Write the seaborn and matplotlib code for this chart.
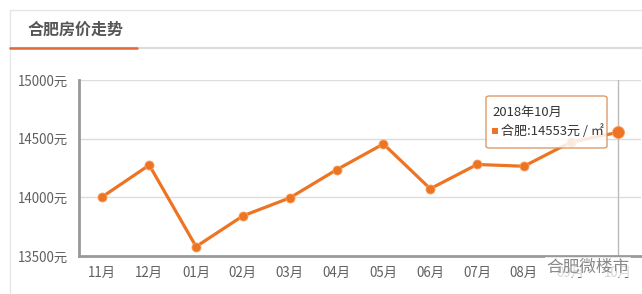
import matplotlib
matplotlib.use("Agg")
import matplotlib.pyplot as plt
import seaborn as sns
import pandas as pd
from matplotlib.lines import Line2D
from matplotlib.patches import FancyBboxPatch, Rectangle

months = ["11月", "12月", "01月", "02月", "03月", "04月", "05月", "06月", "07月", "08月", "09月", "10月"]
prices = [14005, 14275, 13580, 13842, 13995, 14235, 14455, 14073, 14280, 14265, 14470, 14553]
y_ticks = [13500, 14000, 14500, 15000]
y_labels = ["13500元", "14000元", "14500元", "15000元"]
title = "合肥房价走势"
tip_title = "2018年10月"
tip_series = "合肥"
tip_unit = "元 / ㎡"
watermark = "合肥微楼市"

sns.set_style("white")
plt.rcParams["font.family"] = ["Noto Sans CJK SC", "DejaVu Sans"]

W, H = 642, 294
fig = plt.figure(figsize=(W / 100, H / 100), dpi=100)
fig.patch.set_facecolor("white")

def fx(x):
    return x / W

def fy(y):
    return 1 - y / H

ax = fig.add_axes([fx(79), fy(256), fx(641) - fx(79), fy(80) - fy(256)])

df = pd.DataFrame({"month": months, "price": prices})
orange = "#ED7422"
sns.lineplot(data=df, x="month", y="price", ax=ax, color=orange, linewidth=2.3,
             marker="o", markersize=6.5, markeredgecolor="#f7a060", markeredgewidth=0.6,
             zorder=3)
ax.scatter([months[-1]], [prices[-1]], s=75, color=orange, edgecolor="#f7a060",
           linewidth=0.6, zorder=4)

ax.set_xlim(-0.5, len(months) - 0.5)
ax.set_ylim(y_ticks[0], y_ticks[-1])
ax.set_yticks(y_ticks)
ax.set_yticklabels(y_labels)
ax.set_xlabel("")
ax.set_ylabel("")
for v in y_ticks[1:]:
    ax.axhline(v, color="#dddddd", linewidth=1, zorder=1)

ax.tick_params(axis="y", length=0, pad=8, labelsize=9.6, labelcolor="#606060")
ax.tick_params(axis="x", length=4, width=1, color="#aaaaaa", pad=3, labelsize=9.6,
               labelcolor="#606060", direction="out")
for s in ["top", "right"]:
    ax.spines[s].set_visible(False)
for s in ["left", "bottom"]:
    ax.spines[s].set_color("#999999")
    ax.spines[s].set_linewidth(2)

# hover pointer line
ax.axvline(len(months) - 1, color="#bbbbbb", linewidth=1, zorder=2)

# panel frame
fig.add_artist(Line2D([fx(10), fx(642)], [fy(10), fy(10)], color="#e6e6e6", linewidth=1))
fig.add_artist(Line2D([fx(10), fx(10)], [fy(10), fy(294)], color="#e6e6e6", linewidth=1))
fig.add_artist(Line2D([fx(10), fx(642)], [fy(48), fy(48)], color="#dcdcdc", linewidth=1.6))
fig.add_artist(Line2D([fx(10), fx(137)], [fy(48), fy(48)], color="#E2693A", linewidth=1.8))
fig.text(fx(28), fy(30), title, fontsize=11.5, fontweight="bold", color="#555555",
         va="center", ha="left")

# tooltip
box = FancyBboxPatch((fx(486), fy(148)), fx(607) - fx(486), fy(96) - fy(148),
                     boxstyle="round,pad=0,rounding_size=0.006", transform=fig.transFigure,
                     facecolor="white", edgecolor="#d98a4e", linewidth=1, alpha=0.85,
                     zorder=10)
fig.add_artist(box)
fig.text(fx(492), fy(112), tip_title, fontsize=9.4, color="#333333", va="center",
         ha="left", zorder=11)
fig.add_artist(Rectangle((fx(492), fy(134)), fx(6), fy(0) - fy(6), transform=fig.transFigure,
                         facecolor=orange, edgecolor="none", zorder=11))
fig.text(fx(501), fy(131), f"{tip_series}:{prices[-1]}{tip_unit}", fontsize=9.4,
         color="#333333", va="center", ha="left", zorder=11)

# watermark
fig.text(fx(588), fy(267), watermark, fontsize=12, color="#8a8a8a", va="center",
         ha="center", zorder=12,
         bbox=dict(facecolor="white", edgecolor="none", alpha=0.75, pad=1))

fig.savefig("out.png", dpi=100, facecolor="white")
